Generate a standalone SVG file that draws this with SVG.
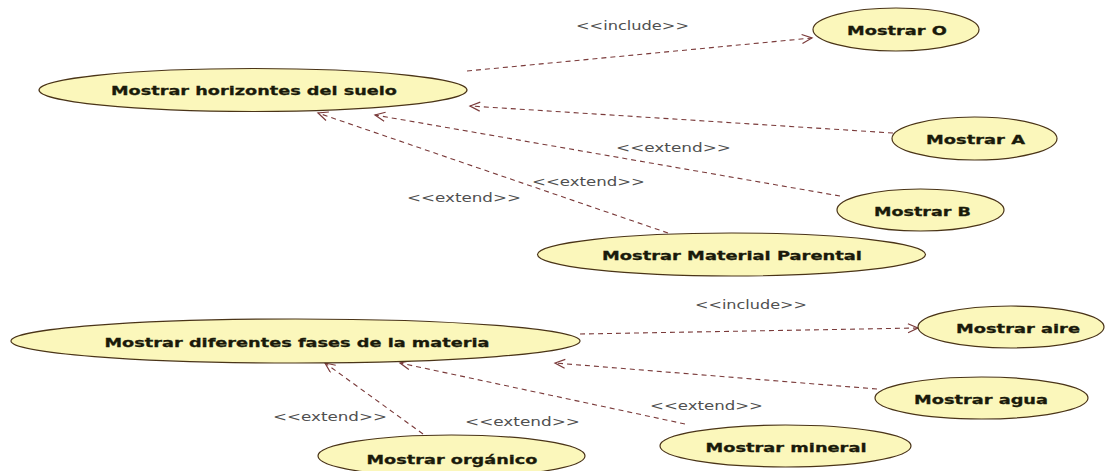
<svg xmlns="http://www.w3.org/2000/svg" width="1107" height="471" viewBox="0 0 1107 471">
  <style>
    .uc ellipse { fill: #fbf7bb; stroke: #4a3418; stroke-width: 1.2; }
    .uc text { font-family: "DejaVu Sans", Verdana, sans-serif; font-weight: bold; font-size: 12.8px; fill: #1a1a0a; stroke: #1a1a0a; stroke-width: 0.3; text-anchor: middle; }
    .dep { fill: none; stroke: #7a3a3a; stroke-width: 1.1; stroke-dasharray: 5 4; marker-end: url(#open); }
    .stereo { font-family: "DejaVu Sans", Verdana, sans-serif; font-size: 12px; fill: #505050; }
  </style>
  <defs>
    <marker id="open" markerUnits="userSpaceOnUse" markerWidth="14" markerHeight="12" refX="11" refY="5" orient="auto">
      <path d="M1,0.5 L11,5 L1,9.5" fill="none" stroke="#7a3a3a" stroke-width="1.2"/>
    </marker>
  </defs>
  <rect width="1107" height="471" fill="#ffffff"/>

  <!-- dependencies -->
  <g id="connectors">
    <path class="dep" d="M467,71 L812,38"/>
    <path class="dep" d="M893,133 L470,106"/>
    <path class="dep" d="M840,196 L375,115"/>
    <path class="dep" d="M668,233 L318,113"/>
    <path class="dep" d="M580,334 L918,328"/>
    <path class="dep" d="M877,389 L555,363"/>
    <path class="dep" d="M685,424 L400,363"/>
    <path class="dep" d="M423,434 L325,363"/>
    <text class="stereo" x="576" y="30" textLength="113" lengthAdjust="spacingAndGlyphs">&lt;&lt;include&gt;&gt;</text>
    <text class="stereo" x="616" y="152" textLength="115" lengthAdjust="spacingAndGlyphs">&lt;&lt;extend&gt;&gt;</text>
    <text class="stereo" x="532" y="186" textLength="113" lengthAdjust="spacingAndGlyphs">&lt;&lt;extend&gt;&gt;</text>
    <text class="stereo" x="407" y="202" textLength="114" lengthAdjust="spacingAndGlyphs">&lt;&lt;extend&gt;&gt;</text>
    <text class="stereo" x="695" y="309" textLength="112" lengthAdjust="spacingAndGlyphs">&lt;&lt;include&gt;&gt;</text>
    <text class="stereo" x="650" y="410" textLength="113" lengthAdjust="spacingAndGlyphs">&lt;&lt;extend&gt;&gt;</text>
    <text class="stereo" x="273" y="421" textLength="114" lengthAdjust="spacingAndGlyphs">&lt;&lt;extend&gt;&gt;</text>
    <text class="stereo" x="465" y="426" textLength="115" lengthAdjust="spacingAndGlyphs">&lt;&lt;extend&gt;&gt;</text>
  </g>

  <!-- use cases -->
  <g id="mostrar-horizontes" class="uc">
    <ellipse cx="253" cy="90" rx="214" ry="21.5"/>
    <text x="254" y="95" textLength="286" lengthAdjust="spacingAndGlyphs">Mostrar horizontes del suelo</text>
  </g>
  <g id="mostrar-o" class="uc">
    <ellipse cx="896" cy="29.5" rx="83" ry="21.5"/>
    <text x="897" y="35" textLength="100" lengthAdjust="spacingAndGlyphs">Mostrar O</text>
  </g>
  <g id="mostrar-a" class="uc">
    <ellipse cx="974.5" cy="138.5" rx="82.5" ry="21.5"/>
    <text x="975.5" y="144" textLength="99" lengthAdjust="spacingAndGlyphs">Mostrar A</text>
  </g>
  <g id="mostrar-b" class="uc">
    <ellipse cx="920.5" cy="210" rx="83.5" ry="21"/>
    <text x="922.5" y="215.5" textLength="97" lengthAdjust="spacingAndGlyphs">Mostrar B</text>
  </g>
  <g id="mostrar-material-parental" class="uc">
    <ellipse cx="731.5" cy="254.5" rx="194" ry="21.5"/>
    <text x="732" y="259.5" textLength="260" lengthAdjust="spacingAndGlyphs">Mostrar Material Parental</text>
  </g>
  <g id="mostrar-fases" class="uc">
    <ellipse cx="295.5" cy="341" rx="284.5" ry="22"/>
    <text x="297" y="346.5" textLength="385" lengthAdjust="spacingAndGlyphs">Mostrar diferentes fases de la materia</text>
  </g>
  <g id="mostrar-aire" class="uc">
    <ellipse cx="1011" cy="327" rx="93" ry="21"/>
    <text x="1018" y="332.5" textLength="124" lengthAdjust="spacingAndGlyphs">Mostrar aire</text>
  </g>
  <g id="mostrar-agua" class="uc">
    <ellipse cx="981.5" cy="398" rx="106.5" ry="21"/>
    <text x="981" y="403.5" textLength="134" lengthAdjust="spacingAndGlyphs">Mostrar agua</text>
  </g>
  <g id="mostrar-mineral" class="uc">
    <ellipse cx="785.5" cy="446" rx="125.5" ry="21"/>
    <text x="786" y="451.5" textLength="161" lengthAdjust="spacingAndGlyphs">Mostrar mineral</text>
  </g>
  <g id="mostrar-organico" class="uc">
    <ellipse cx="451.5" cy="456" rx="133.5" ry="21"/>
    <text x="452" y="463.5" textLength="171" lengthAdjust="spacingAndGlyphs">Mostrar orgánico</text>
  </g>
</svg>
